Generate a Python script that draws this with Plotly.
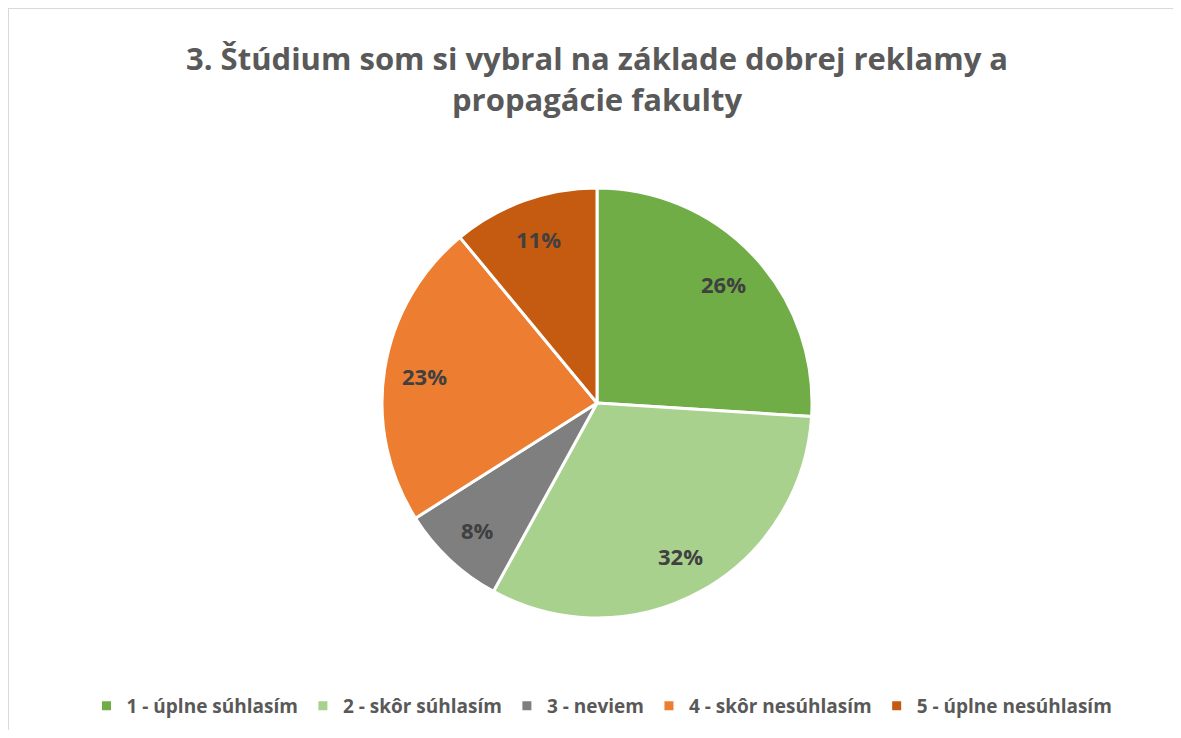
import math
import plotly.graph_objects as go

categories = ["1 - úplne súhlasím", "2 - skôr súhlasím", "3 - neviem",
              "4 - skôr nesúhlasím", "5 - úplne nesúhlasím"]
values = [26, 32, 8, 23, 11]
colors = ["#70AD47", "#A9D18E", "#7F7F7F", "#ED7D31", "#C55A11"]
title_lines = ["3. Štúdium som si vybral na základe dobrej reklamy a", "propagácie fakulty"]

# page body has an 8px margin; work in page coordinates and convert
OFF = 8
W, H = 1181 - 2 * OFF, 738 - 2 * OFF


def px(x):
    return (x - OFF) / W


def py(y):
    return 1 - (y - OFF) / H


cx, cy, r = 597, 403, 215

fig = go.Figure(go.Pie(
    labels=categories,
    values=values,
    sort=False,
    direction="clockwise",
    rotation=0,
    marker=dict(colors=colors, line=dict(color="white", width=3)),
    textinfo="none",
    domain=dict(x=[px(cx - r), px(cx + r)], y=[py(cy + r), py(cy - r)]),
    hoverinfo="label+percent",
))

# data labels placed along each slice's mid-angle (like the original's labels)
total = sum(values)
annotations = []
cum = 0
for v in values:
    mid = (cum + v / 2) / total * 2 * math.pi
    cum += v
    d = 0.81 * r
    lx = cx + d * math.sin(mid)
    ly = cy - d * math.cos(mid)
    annotations.append(dict(
        text=f"{round(v / total * 100)}%", x=px(lx), y=py(ly), xref="paper", yref="paper",
        xanchor="center", yanchor="middle", showarrow=False,
        font=dict(family="Open Sans", size=22, color="#404040", weight="bold")))

annotations += [
    dict(text=title_lines[0], x=px(597), y=py(58), xref="paper", yref="paper",
         xanchor="center", yanchor="middle", showarrow=False,
         font=dict(family="Open Sans", size=31, color="#595959", weight="bold")),
    dict(text=title_lines[1], x=px(597), y=py(99), xref="paper", yref="paper",
         xanchor="center", yanchor="middle", showarrow=False,
         font=dict(family="Open Sans", size=31, color="#595959", weight="bold")),
]

fig.update_layout(
    width=W, height=H,
    margin=dict(l=0, r=0, t=0, b=0),
    paper_bgcolor="white",
    showlegend=True,
    legend=dict(orientation="h", x=px(602), xanchor="center", y=py(706), yanchor="middle",
                font=dict(family="Open Sans", size=19, color="#595959", weight="bold"),
                traceorder="normal"),
    shapes=[
        dict(type="line", xref="paper", yref="paper", x0=0, x1=1, y0=1, y1=1,
             line=dict(color="#D9D9D9", width=2)),
        dict(type="line", xref="paper", yref="paper", x0=0, x1=0, y0=0, y1=1,
             line=dict(color="#D9D9D9", width=2)),
    ],
    annotations=annotations,
)

fig.write_html("out.html")
